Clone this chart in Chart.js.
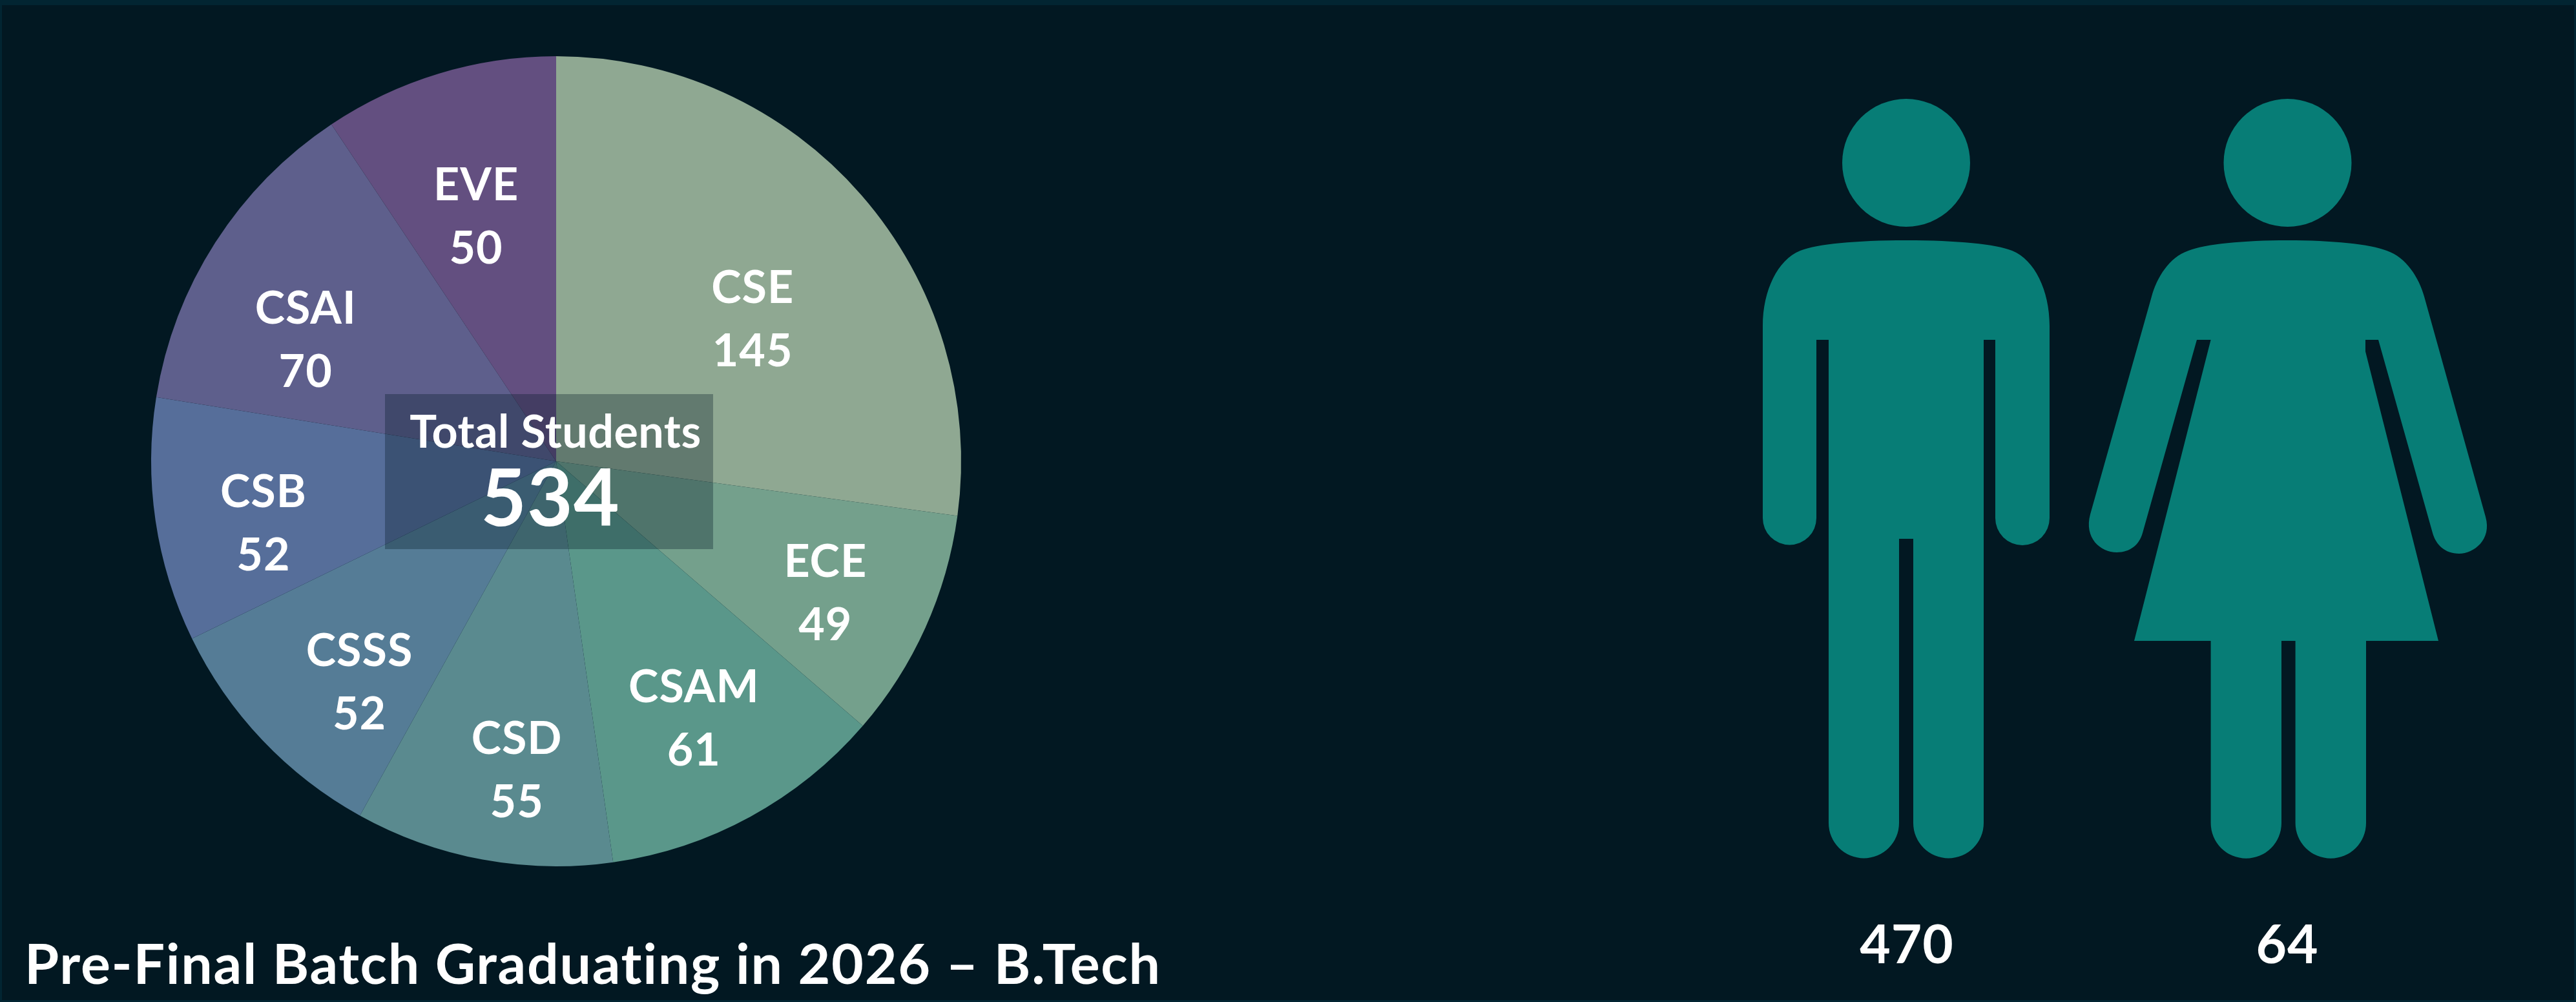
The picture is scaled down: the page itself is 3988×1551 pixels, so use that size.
<!DOCTYPE html>
<html>
<head>
<meta charset="utf-8">
<title>Pre-Final Batch Graduating in 2026 - B.Tech</title>
<script src="https://cdn.jsdelivr.net/npm/chart.js"></script>
<style>
    html, body { margin: 0; padding: 0; background: #021822; overflow: hidden; }
    #frame { position: absolute; left: 0; top: 0; width: 3988px; height: 1551px; box-sizing: border-box;
             border: solid #022532; border-width: 8px 3px 3px 3px; }
    canvas { position: absolute; left: 0; top: 0; }
</style>
</head>
<body>
<div id="frame"></div>
<canvas id="batchChart" width="3988" height="1551"></canvas>
<script>
// Data
const branches = ["CSE", "ECE", "CSAM", "CSD", "CSSS", "CSB", "CSAI", "EVE"];
const students = [145, 49, 61, 55, 52, 52, 70, 50];
const sliceColors = ["#8FA892", "#74A08C", "#5A978A", "#5A8A8F", "#557C96", "#566E9A", "#5E5F8C", "#634F80"];
const totalLabel = "Total Students";
const totalStudents = 534;
const maleCount = 470;
const femaleCount = 64;
const chartTitle = "Pre-Final Batch Graduating in 2026 – B.Tech";

// labels were moved by hand in the original, nudge them from the slice centre
const labelNudge = [[68, -15], [131, 74], [63, 121], [-4, 168], [-77, 125], [-143, 48], [-124, -20], [-33, -81]];

const font = "Lato";
const teal = "#077D76";

function drawMan(ctx) {
    ctx.beginPath();
    ctx.arc(2951, 252, 99, 0, Math.PI * 2);
    ctx.fill();

    ctx.beginPath();
    ctx.moveTo(2951, 372);
    ctx.bezierCurveTo(3030, 372, 3090, 378, 3115, 388);
    ctx.bezierCurveTo(3150, 402, 3173, 450, 3173, 504);
    ctx.lineTo(3173, 802);
    ctx.arc(3131, 802, 42, 0, Math.PI);
    ctx.lineTo(3089, 526);
    ctx.lineTo(3071, 526);
    ctx.lineTo(3071, 1274);
    ctx.arc(3016.5, 1274, 54.5, 0, Math.PI);
    ctx.lineTo(2962, 834);
    ctx.lineTo(2940, 834);
    ctx.lineTo(2940, 1274);
    ctx.arc(2885.5, 1274, 54.5, 0, Math.PI);
    ctx.lineTo(2831, 526);
    ctx.lineTo(2812, 526);
    ctx.lineTo(2812, 802);
    ctx.arc(2770.5, 802, 41.5, 0, Math.PI);
    ctx.lineTo(2729, 504);
    ctx.bezierCurveTo(2729, 450, 2752, 402, 2787, 388);
    ctx.bezierCurveTo(2812, 378, 2872, 372, 2951, 372);
    ctx.closePath();
    ctx.fill();
}

function drawWoman(ctx) {
    ctx.beginPath();
    ctx.arc(3541.5, 252, 99, 0, Math.PI * 2);
    ctx.fill();

    ctx.beginPath();
    ctx.moveTo(3541.5, 372);
    ctx.bezierCurveTo(3610, 372, 3670, 378, 3695, 388);
    ctx.bezierCurveTo(3725, 398, 3745, 430, 3753, 459);
    ctx.lineTo(3848, 800);
    ctx.bezierCurveTo(3858, 835, 3830, 857, 3807, 857);
    ctx.bezierCurveTo(3785, 857, 3771, 843, 3766, 825);
    ctx.lineTo(3682, 526);
    ctx.lineTo(3662, 526);
    ctx.lineTo(3662, 544);
    ctx.lineTo(3775, 992);
    ctx.lineTo(3663, 992);
    ctx.lineTo(3663, 1274);
    ctx.arc(3608.3, 1274, 54.7, 0, Math.PI);
    ctx.lineTo(3553.6, 992);
    ctx.lineTo(3532, 992);
    ctx.lineTo(3532, 1274);
    ctx.arc(3477.3, 1274, 54.7, 0, Math.PI);
    ctx.lineTo(3422.6, 992);
    ctx.lineTo(3304, 992);
    ctx.lineTo(3422.6, 526);
    ctx.lineTo(3401, 526);
    ctx.lineTo(3317, 825);
    ctx.bezierCurveTo(3312, 843, 3298, 855, 3277, 855);
    ctx.bezierCurveTo(3252, 855, 3226, 833, 3236, 796);
    ctx.lineTo(3331, 459);
    ctx.bezierCurveTo(3339, 430, 3358, 398, 3388, 388);
    ctx.bezierCurveTo(3413, 378, 3473, 372, 3541.5, 372);
    ctx.closePath();
    ctx.fill();
}

function text(ctx, str, x, y, size, spacing) {
    ctx.font = "700 " + size + "px " + font;
    ctx.letterSpacing = (spacing || 0) + "px";
    ctx.fillText(str, x, y);
}

// everything that is not a slice goes on top of the pie
const overlayPlugin = {
    id: "overlay",
    afterDraw(chart) {
        const ctx = chart.ctx;
        const arcs = chart.getDatasetMeta(0).data;
        ctx.save();

        // centre box
        ctx.fillStyle = "rgba(2, 24, 36, 0.32)";
        ctx.fillRect(596, 610, 508, 240);

        ctx.fillStyle = "#FFFFFF";
        ctx.textAlign = "center";
        ctx.textBaseline = "middle";

        arcs.forEach(function (arc, i) {
            const pos = arc.tooltipPosition();
            const x = pos.x + labelNudge[i][0];
            const y = pos.y + labelNudge[i][1];
            text(ctx, branches[i], x, y - 46, 70, 1);
            text(ctx, String(students[i]), x, y + 52, 70, 1);
        });

        text(ctx, totalLabel, 860, 670, 70, 0.5);
        text(ctx, String(totalStudents), 852, 775, 122, 1);

        text(ctx, String(maleCount), 2952, 1465, 82, 1);
        text(ctx, String(femaleCount), 3541, 1465, 82, 1);

        ctx.textAlign = "left";
        ctx.textBaseline = "alphabetic";
        text(ctx, chartTitle, 38, 1523, 86, 1.75);

        ctx.fillStyle = teal;
        drawMan(ctx);
        drawWoman(ctx);
        ctx.restore();
    }
};

const data = {
    labels: branches,
    datasets: [
        {
            data: students,
            backgroundColor: sliceColors,
            borderWidth: 0,
        },
    ],
};

const config = {
    type: "pie",
    data: data,
    plugins: [overlayPlugin],
    options: {
        responsive: false,
        animation: false,
        layout: {
            padding: { left: 234, right: 2500, top: 87, bottom: 210 },
        },
        plugins: {
            legend: { display: false },
            tooltip: { enabled: false },
        },
    },
};

const ctx = document.getElementById("batchChart").getContext("2d");
new Chart(ctx, config);
</script>
</body>
</html>
